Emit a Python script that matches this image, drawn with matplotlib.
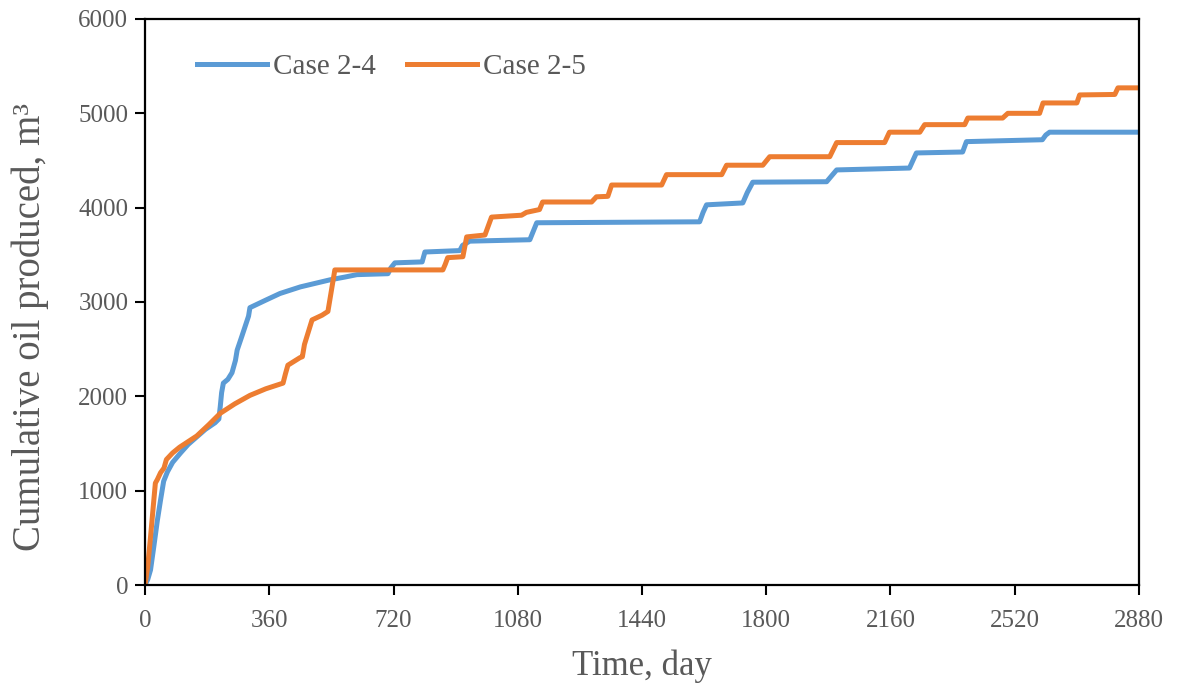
import numpy as np
import matplotlib
matplotlib.use("Agg")
import matplotlib.pyplot as plt

# data
days_24 = [0, 8, 16, 26, 36, 45, 54, 65, 80, 103, 125, 150, 175, 203, 214, 218, 222, 227, 240, 252, 262, 267, 280,
           290, 300, 304, 350, 391, 450, 536, 580, 614, 704, 712, 724, 803, 811, 912, 920, 941, 1115, 1125, 1135,
           1607, 1617, 1627, 1732, 1745, 1761, 1975, 1990, 2004, 2215, 2225, 2235, 2369, 2380, 2600, 2610, 2621, 2880]
oil_24 = [0, 60, 160, 420, 690, 900, 1100, 1200, 1300, 1400, 1490, 1570, 1650, 1720, 1760, 1890, 2040, 2140, 2180,
          2250, 2380, 2490, 2630, 2740, 2850, 2940, 3020, 3090, 3160, 3235, 3265, 3290, 3300, 3360, 3415, 3425, 3530,
          3545, 3600, 3645, 3660, 3750, 3840, 3850, 3950, 4030, 4050, 4160, 4270, 4275, 4340, 4400, 4420, 4500, 4580,
          4590, 4700, 4720, 4770, 4800, 4800]

days_25 = [0, 8, 16, 30, 36, 45, 55, 62, 80, 100, 125, 150, 185, 218, 260, 304, 350, 400, 407, 414, 449, 456, 462,
           484, 513, 530, 550, 863, 870, 877, 921, 932, 985, 1004, 1091, 1105, 1143, 1152, 1294, 1308, 1341, 1352,
           1497, 1511, 1671, 1685, 1790, 1810, 1984, 2004, 2143, 2157, 2245, 2259, 2375, 2384, 2485, 2500, 2592, 2602,
           2700, 2708, 2810, 2819, 2880]
oil_25 = [0, 200, 510, 1080, 1120, 1190, 1240, 1330, 1400, 1460, 1520, 1580, 1700, 1820, 1920, 2010, 2080, 2140,
          2240, 2330, 2410, 2420, 2550, 2810, 2860, 2900, 3340, 3340, 3400, 3470, 3480, 3690, 3710, 3900, 3920, 3950,
          3980, 4060, 4060, 4115, 4120, 4240, 4240, 4350, 4350, 4450, 4450, 4540, 4540, 4690, 4690, 4800, 4800, 4880,
          4880, 4950, 4950, 5000, 5000, 5110, 5110, 5195, 5200, 5270, 5270]

x_ticks = [0, 360, 720, 1080, 1440, 1800, 2160, 2520, 2880]
y_ticks = [0, 1000, 2000, 3000, 4000, 5000, 6000]

plt.rcParams['font.family'] = ['Liberation Serif', 'DejaVu Serif']

fig = plt.figure(figsize=(11.77, 6.88), dpi=100)
ax = fig.add_axes([0.1232, 0.1497, 0.8445, 0.8227])

ax.plot(days_24, oil_24, color='#5B9BD5', lw=3.6, label='Case 2-4', solid_joinstyle='round')
ax.plot(days_25, oil_25, color='#ED7D31', lw=3.6, label='Case 2-5', solid_joinstyle='round')

ax.set_xlim(0, 2880)
ax.set_ylim(0, 6000)
ax.set_xticks(x_ticks)
ax.set_yticks(y_ticks)
ax.tick_params(direction='out', length=7, width=1.5, colors='black', labelcolor='#595959', labelsize=18, pad=5)
ax.tick_params(axis='x', pad=11)
for s in ax.spines.values():
    s.set_linewidth(1.6)
    s.set_color('black')

ax.set_xlabel('Time, day', fontsize=25, color='#595959')
ax.xaxis.set_label_coords(0.5, -0.114)
ax.set_ylabel('Cumulative oil produced, m³', fontsize=28, color='#595959')
ax.yaxis.set_label_coords(-0.097, 0.455)

ax.legend(loc='center left', bbox_to_anchor=(0.052, 0.916), ncol=2, frameon=False, fontsize=21,
          borderpad=0, borderaxespad=0, handlelength=2.4, handletextpad=0.2, columnspacing=1.1,
          labelcolor='#595959')

fig.savefig('out.png', dpi=100)
